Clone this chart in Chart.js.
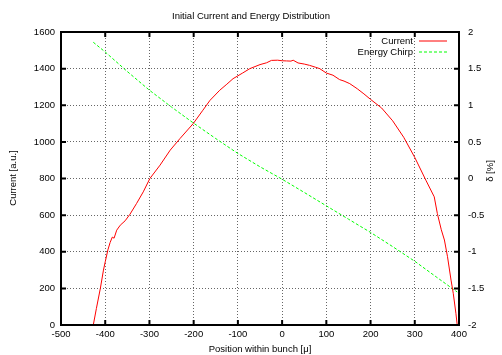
<!DOCTYPE html>
<html>
<head>
<meta charset="utf-8">
<script src="https://cdn.jsdelivr.net/npm/chart.js@4"></script>
<style>
  body { margin: 0; background: #fff; }
  #wrap { width: 502px; height: 355px; }
</style>
</head>
<body>
<div id="wrap"><canvas id="chart"></canvas></div>
<script>
// data
const xCurrent = [-427, -420, -411, -404, -400, -394, -389, -384, -380, -374, -366, -355, -344, -329, -314, -299, -276, -253, -231, -201, -180, -163, -141, -125, -111, -90, -73, -50, -35, -24, -10, 0, 10, 20, 25, 36, 50, 62, 75, 85, 100, 115, 130, 140, 153, 170, 185, 200, 225, 250, 275, 300, 325, 344, 351, 360, 367, 374, 382, 387, 393, 396];
const current = [0, 90, 200, 300, 345, 410, 450, 480, 474, 518, 545, 569, 605, 664, 727, 800, 873, 955, 1018, 1100, 1170, 1227, 1282, 1315, 1345, 1375, 1400, 1422, 1432, 1445, 1446, 1443, 1442, 1441, 1446, 1431, 1425, 1418, 1408, 1400, 1376, 1364, 1340, 1332, 1318, 1290, 1262, 1232, 1185, 1115, 1025, 915, 791, 700, 609, 520, 464, 373, 245, 173, 64, 0];

const xChirp = [-427, -400, -350, -300, -250, -200, -150, -100, -50, 0, 50, 100, 150, 200, 250, 300, 350, 396];
const chirp = [1.86, 1.727, 1.46, 1.205, 0.975, 0.755, 0.545, 0.342, 0.16, -0.01, -0.19, -0.373, -0.555, -0.736, -0.93, -1.13, -1.35, -1.55];

const xTicks = [-500, -400, -300, -200, -100, 0, 100, 200, 300, 400];
const yTicks = [0, 200, 400, 600, 800, 1000, 1200, 1400, 1600];
const y2Ticks = [-2, -1.5, -1, -0.5, 0, 0.5, 1, 1.5, 2];

const FONT = "'Liberation Sans', Arial, sans-serif";
const fnt = { family: FONT, size: 9.5 };

// frame, inward ticks, axis titles and the gnuplot style key
const gnuFrame = {
  id: 'gnuFrame',
  afterDraw(chart) {
    const { ctx, chartArea: a, scales } = chart;
    ctx.save();
    ctx.strokeStyle = '#000';
    ctx.lineWidth = 2;
    ctx.strokeRect(a.left, a.top, a.right - a.left, a.bottom - a.top);
    const tl = 5;
    ctx.beginPath();
    xTicks.forEach(v => {
      const px = scales.x.getPixelForValue(v);
      ctx.moveTo(px, a.bottom); ctx.lineTo(px, a.bottom - tl);
      ctx.moveTo(px, a.top); ctx.lineTo(px, a.top + tl);
    });
    yTicks.forEach(v => {
      const py = scales.y.getPixelForValue(v);
      ctx.moveTo(a.left, py); ctx.lineTo(a.left + tl, py);
    });
    y2Ticks.forEach(v => {
      const py = scales.y2.getPixelForValue(v);
      ctx.moveTo(a.right, py); ctx.lineTo(a.right - tl, py);
    });
    ctx.stroke();

    ctx.fillStyle = '#000';
    ctx.font = `9.5px ${FONT}`;
    ctx.textBaseline = 'middle';
    ctx.textAlign = 'center';
    ctx.fillText('Position within bunch [\u03bc]', (a.left + a.right) / 2, 349);
    ctx.save();
    ctx.translate(13, 178);
    ctx.rotate(-Math.PI / 2);
    ctx.fillText('Current [a.u.]', 0, 0);
    ctx.restore();
    ctx.save();
    ctx.translate(490, 171);
    ctx.rotate(-Math.PI / 2);
    ctx.fillText('\u03b4 [%]', 0, 0);
    ctx.restore();

    // key
    ctx.textAlign = 'right';
    ctx.fillText('Current', 413, 41);
    ctx.fillText('Energy Chirp', 413, 52);
    ctx.lineWidth = 1;
    ctx.strokeStyle = '#ff0000';
    ctx.beginPath(); ctx.moveTo(419, 41); ctx.lineTo(447, 41); ctx.stroke();
    ctx.strokeStyle = '#00ff00';
    ctx.setLineDash([3, 2]);
    ctx.beginPath(); ctx.moveTo(419, 52); ctx.lineTo(447, 52); ctx.stroke();
    ctx.restore();
  }
};

new Chart(document.getElementById('chart'), {
  type: 'line',
  data: {
    datasets: [
      {
        label: 'Current',
        data: xCurrent.map((x, i) => ({ x: x, y: current[i] })),
        borderColor: '#ff0000',
        borderWidth: 1,
        pointRadius: 0,
        tension: 0,
        yAxisID: 'y'
      },
      {
        label: 'Energy Chirp',
        data: xChirp.map((x, i) => ({ x: x, y: chirp[i] })),
        borderColor: '#00ff00',
        borderWidth: 1,
        borderDash: [3, 2],
        pointRadius: 0,
        tension: 0,
        yAxisID: 'y2'
      }
    ]
  },
  options: {
    responsive: true,
    maintainAspectRatio: false,
    animation: false,
    layout: { padding: 0 },
    plugins: {
      legend: { display: false },
      tooltip: { enabled: false },
      title: {
        display: true,
        text: 'Initial Current and Energy Distribution',
        color: '#000',
        font: { family: FONT, size: 9.5, weight: 'normal' },
        padding: { top: 11, bottom: 9.6 }
      }
    },
    scales: {
      x: {
        type: 'linear',
        min: -500, max: 400,
        afterBuildTicks: s => { s.ticks = xTicks.map(v => ({ value: v })); },
        afterFit: s => { s.height = 30; },
        ticks: { color: '#000', font: fnt, padding: 4, maxRotation: 0, callback: v => String(v) },
        grid: { color: '#666', lineWidth: 1, drawTicks: false },
        border: { display: false, dash: [1, 2] }
      },
      y: {
        position: 'left',
        min: 0, max: 1600,
        afterBuildTicks: s => { s.ticks = yTicks.map(v => ({ value: v })); },
        afterFit: s => { s.width = 61; },
        ticks: { color: '#000', font: fnt, padding: 6, callback: v => String(v) },
        grid: { color: '#666', lineWidth: 1, drawTicks: false },
        border: { display: false, dash: [1, 2] }
      },
      y2: {
        position: 'right',
        min: -2, max: 2,
        afterBuildTicks: s => { s.ticks = y2Ticks.map(v => ({ value: v })); },
        afterFit: s => { s.width = 43; },
        ticks: { color: '#000', font: fnt, padding: 9, callback: v => String(v) },
        grid: { display: false, drawTicks: false },
        border: { display: false }
      }
    }
  },
  plugins: [gnuFrame]
});
</script>
</body>
</html>
